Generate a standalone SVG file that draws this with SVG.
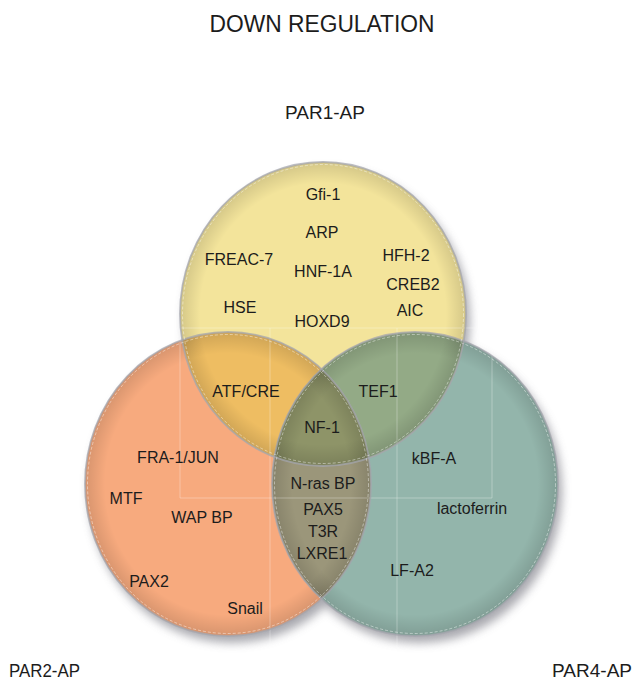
<svg xmlns="http://www.w3.org/2000/svg" width="635" height="681" viewBox="0 0 635 681">
<style>
  .lbl { font-family: "Liberation Sans", Arial, sans-serif; font-size: 16px; fill: #1c1c1c; text-anchor: middle; }
  .ttl { font-family: "Liberation Sans", Arial, sans-serif; fill: #1c1c1c; }
  .rim { fill: none; stroke: #a4a5ae; stroke-width: 1.8; stroke-opacity: 0.75; }
  .dash { fill: none; stroke: #ffffff; stroke-width: 0.8; stroke-opacity: 0.55; stroke-dasharray: 3 2; }
  .grid { stroke: #ffffff; stroke-width: 1; stroke-opacity: 0.3; fill: none; }
  .shade { fill: url(#edge); }
</style>
<defs>
  <filter id="blur" x="-20%" y="-20%" width="140%" height="140%">
    <feGaussianBlur stdDeviation="5"/>
  </filter>
  <radialGradient id="edge" cx="0.5" cy="0.5" r="0.5">
    <stop offset="0.86" stop-color="#000" stop-opacity="0"/>
    <stop offset="1" stop-color="#000" stop-opacity="0.13"/>
  </radialGradient>
  <clipPath id="cpY"><ellipse cx="323" cy="314" rx="143" ry="152"/></clipPath>
  <clipPath id="cpO"><ellipse cx="228" cy="484" rx="143" ry="152"/></clipPath>
  <clipPath id="cpG"><ellipse cx="415" cy="484" rx="143" ry="152"/></clipPath>
</defs>
<rect width="635" height="681" fill="#ffffff"/>

<text class="ttl" x="322" y="32" font-size="23" text-anchor="middle" textLength="225" lengthAdjust="spacingAndGlyphs">DOWN REGULATION</text>
<text class="ttl" x="325" y="119" font-size="19" text-anchor="middle">PAR1-AP</text>
<text class="ttl" x="9" y="677" font-size="19" textLength="71" lengthAdjust="spacingAndGlyphs">PAR2-AP</text>
<text class="ttl" x="632" y="677" font-size="19" text-anchor="end">PAR4-AP</text>

<g id="shadows" filter="url(#blur)" fill="#8d8d95" opacity="0.75">
  <ellipse cx="327" cy="321" rx="143" ry="152"/>
  <ellipse cx="232" cy="491" rx="143" ry="152"/>
  <ellipse cx="419" cy="491" rx="143" ry="152"/>
</g>

<g id="set-par2-ap">
  <ellipse cx="228" cy="484" rx="143" ry="152" fill="#f7aa7e"/>
</g>
<g id="set-par4-ap">
  <ellipse cx="415" cy="484" rx="143" ry="152" fill="#93b5ab"/>
</g>
<g id="set-par1-ap">
  <ellipse cx="323" cy="314" rx="143" ry="152" fill="#f3e49b"/>
</g>

<g id="overlaps">
  <ellipse cx="228" cy="484" rx="143" ry="152" fill="#eebd62" clip-path="url(#cpY)"/>
  <ellipse cx="415" cy="484" rx="143" ry="152" fill="#93aa86" clip-path="url(#cpY)"/>
  <ellipse cx="415" cy="484" rx="143" ry="152" fill="#9b967a" clip-path="url(#cpO)"/>
  <g clip-path="url(#cpY)">
    <ellipse cx="415" cy="484" rx="143" ry="152" fill="#8e9468" clip-path="url(#cpO)"/>
  </g>
</g>

<g id="edge-shading">
  <ellipse class="shade" cx="228" cy="484" rx="143" ry="152"/>
  <ellipse class="shade" cx="415" cy="484" rx="143" ry="152"/>
  <ellipse class="shade" cx="323" cy="314" rx="143" ry="152"/>
</g>

<g id="grid-lines">
  <line class="grid" x1="180" y1="328" x2="500" y2="328"/>
  <line class="grid" x1="180" y1="498" x2="492" y2="498"/>
  <line class="grid" x1="180" y1="328" x2="180" y2="498"/>
  <line class="grid" x1="492" y1="328" x2="492" y2="498"/>
  <line class="grid" x1="270" y1="328" x2="270" y2="655"/>
  <line class="grid" x1="397" y1="328" x2="397" y2="655"/>
</g>

<g id="rims">
  <ellipse class="rim" cx="228" cy="484" rx="143" ry="152"/>
  <ellipse class="rim" cx="415" cy="484" rx="143" ry="152"/>
  <ellipse class="rim" cx="323" cy="314" rx="143" ry="152"/>
  <ellipse class="dash" cx="228" cy="484" rx="140.5" ry="149.5"/>
  <ellipse class="dash" cx="415" cy="484" rx="140.5" ry="149.5"/>
  <ellipse class="dash" cx="323" cy="314" rx="140.5" ry="149.5"/>
</g>

<g id="labels">
  <g id="item-gfi1"><text class="lbl" x="323" y="200">Gfi-1</text></g>
  <g id="item-arp"><text class="lbl" x="322" y="238">ARP</text></g>
  <g id="item-freac7"><text class="lbl" x="239" y="265">FREAC-7</text></g>
  <g id="item-hnf1a"><text class="lbl" x="323" y="277">HNF-1A</text></g>
  <g id="item-hfh2"><text class="lbl" x="406" y="261">HFH-2</text></g>
  <g id="item-creb2"><text class="lbl" x="413" y="290">CREB2</text></g>
  <g id="item-hse"><text class="lbl" x="240" y="313">HSE</text></g>
  <g id="item-aic"><text class="lbl" x="410" y="316">AIC</text></g>
  <g id="item-hoxd9"><text class="lbl" x="322" y="327">HOXD9</text></g>
  <g id="item-atfcre"><text class="lbl" x="246" y="397">ATF/CRE</text></g>
  <g id="item-tef1"><text class="lbl" x="378" y="397">TEF1</text></g>
  <g id="item-nf1"><text class="lbl" x="322" y="433">NF-1</text></g>
  <g id="item-fra1jun"><text class="lbl" x="178" y="463">FRA-1/JUN</text></g>
  <g id="item-kbfa"><text class="lbl" x="434" y="464">kBF-A</text></g>
  <g id="item-nrasbp"><text class="lbl" x="323" y="489">N-ras BP</text></g>
  <g id="item-mtf"><text class="lbl" x="126" y="504">MTF</text></g>
  <g id="item-wapbp"><text class="lbl" x="202" y="523">WAP BP</text></g>
  <g id="item-pax5"><text class="lbl" x="323" y="515">PAX5</text></g>
  <g id="item-lactoferrin"><text class="lbl" x="472" y="514">lactoferrin</text></g>
  <g id="item-t3r"><text class="lbl" x="323" y="537">T3R</text></g>
  <g id="item-lxre1"><text class="lbl" x="322" y="559">LXRE1</text></g>
  <g id="item-lfa2"><text class="lbl" x="412" y="576">LF-A2</text></g>
  <g id="item-pax2"><text class="lbl" x="149" y="587">PAX2</text></g>
  <g id="item-snail"><text class="lbl" x="245" y="614">Snail</text></g>
</g>
</svg>
